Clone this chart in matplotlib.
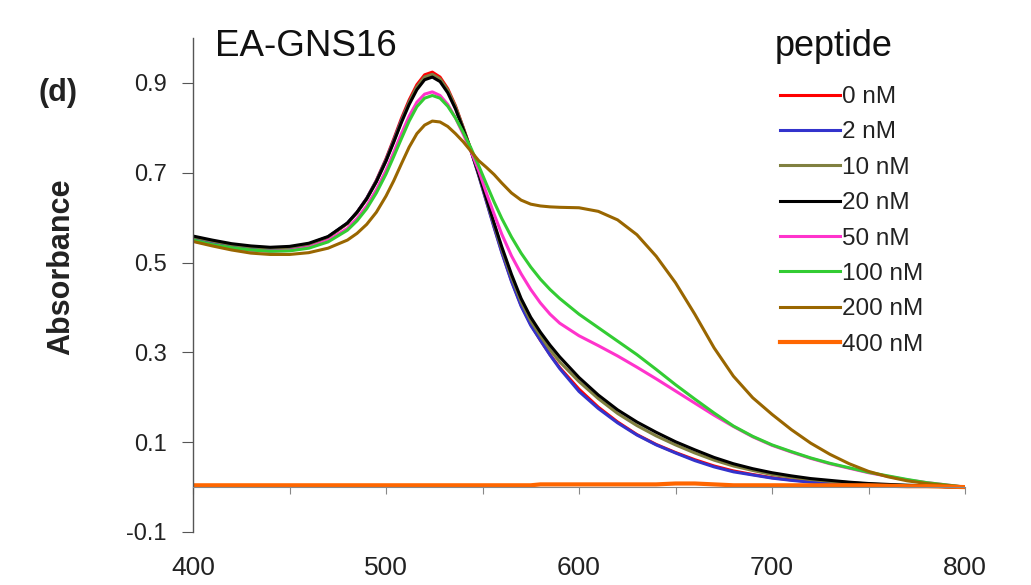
import matplotlib
matplotlib.use("Agg")
import matplotlib.pyplot as plt
from matplotlib.lines import Line2D

plt.rcParams['font.family'] = ['Liberation Sans', 'DejaVu Sans']

wavelength = [400, 410, 420, 430, 440, 450, 460, 470, 480, 485, 490, 495, 500, 504, 508, 512,
              516, 520, 524, 528, 532, 536, 540, 544, 548, 552, 556, 560, 565, 570, 575, 580,
              585, 590, 600, 610, 620, 630, 640, 650, 660, 670, 680, 690, 700, 710, 720, 730,
              740, 750, 760, 770, 780, 790, 800]

a_0nM = [0.553, 0.545, 0.538, 0.533, 0.530, 0.532, 0.540, 0.556, 0.587, 0.612, 0.643, 0.683, 0.731, 0.775, 0.821, 0.862,
         0.896, 0.918, 0.924, 0.913, 0.887, 0.849, 0.801, 0.751, 0.696, 0.638, 0.580, 0.524, 0.460, 0.405, 0.362, 0.327,
         0.295, 0.266, 0.218, 0.178, 0.145, 0.117, 0.095, 0.077, 0.061, 0.047, 0.036, 0.028, 0.021, 0.016, 0.012, 0.009,
         0.007, 0.005, 0.004, 0.003, 0.002, 0.001, 0.000]
a_2nM = [0.555, 0.546, 0.539, 0.534, 0.531, 0.533, 0.541, 0.557, 0.588, 0.612, 0.643, 0.682, 0.729, 0.772, 0.817, 0.857,
         0.890, 0.912, 0.918, 0.907, 0.882, 0.845, 0.799, 0.749, 0.694, 0.636, 0.578, 0.522, 0.458, 0.403, 0.360, 0.327,
         0.294, 0.264, 0.213, 0.175, 0.143, 0.116, 0.094, 0.076, 0.059, 0.045, 0.034, 0.027, 0.020, 0.015, 0.011, 0.008,
         0.006, 0.005, 0.004, 0.003, 0.002, 0.001, 0.000]
a_10nM = [0.557, 0.548, 0.540, 0.535, 0.532, 0.534, 0.541, 0.557, 0.587, 0.611, 0.641, 0.680, 0.727, 0.770, 0.815, 0.857,
          0.891, 0.913, 0.919, 0.909, 0.884, 0.847, 0.800, 0.750, 0.697, 0.641, 0.585, 0.530, 0.468, 0.413, 0.370, 0.337,
          0.306, 0.279, 0.235, 0.197, 0.164, 0.137, 0.114, 0.094, 0.076, 0.060, 0.047, 0.037, 0.028, 0.022, 0.017, 0.013,
          0.010, 0.007, 0.005, 0.004, 0.003, 0.001, 0.000]
a_20nM = [0.559, 0.550, 0.542, 0.537, 0.534, 0.536, 0.543, 0.558, 0.588, 0.612, 0.642, 0.680, 0.726, 0.768, 0.812, 0.852,
          0.885, 0.907, 0.913, 0.903, 0.878, 0.842, 0.797, 0.750, 0.698, 0.643, 0.588, 0.535, 0.474, 0.420, 0.378, 0.345,
          0.316, 0.290, 0.244, 0.205, 0.172, 0.145, 0.122, 0.101, 0.083, 0.066, 0.052, 0.041, 0.032, 0.025, 0.019, 0.015,
          0.011, 0.008, 0.006, 0.004, 0.003, 0.001, 0.000]
a_50nM = [0.548, 0.539, 0.532, 0.527, 0.525, 0.527, 0.534, 0.549, 0.576, 0.598, 0.626, 0.662, 0.705, 0.745, 0.787, 0.826,
          0.857, 0.875, 0.880, 0.872, 0.852, 0.822, 0.786, 0.748, 0.705, 0.655, 0.608, 0.563, 0.515, 0.475, 0.440, 0.410,
          0.385, 0.365, 0.337, 0.315, 0.292, 0.267, 0.241, 0.214, 0.187, 0.160, 0.135, 0.112, 0.093, 0.078, 0.064, 0.052,
          0.042, 0.032, 0.024, 0.016, 0.010, 0.005, 0.000]
a_100nM = [0.550, 0.540, 0.533, 0.528, 0.525, 0.526, 0.532, 0.546, 0.572, 0.593, 0.620, 0.655, 0.697, 0.736, 0.776, 0.815,
           0.847, 0.866, 0.872, 0.866, 0.848, 0.822, 0.790, 0.755, 0.716, 0.675, 0.635, 0.598, 0.557, 0.521, 0.490, 0.463,
           0.440, 0.420, 0.385, 0.355, 0.325, 0.295, 0.262, 0.228, 0.196, 0.165, 0.136, 0.113, 0.094, 0.079, 0.065, 0.053,
           0.043, 0.033, 0.025, 0.017, 0.010, 0.005, 0.000]
a_200nM = [0.547, 0.537, 0.528, 0.521, 0.518, 0.518, 0.522, 0.532, 0.550, 0.565, 0.585, 0.612, 0.648, 0.682, 0.720, 0.757,
           0.787, 0.806, 0.815, 0.813, 0.803, 0.787, 0.769, 0.748, 0.727, 0.712, 0.696, 0.677, 0.655, 0.639, 0.630, 0.626,
           0.624, 0.623, 0.622, 0.614, 0.595, 0.562, 0.514, 0.455, 0.385, 0.310, 0.247, 0.199, 0.162, 0.128, 0.098, 0.073,
           0.052, 0.035, 0.023, 0.014, 0.008, 0.004, 0.000]
a_400nM = [0.004, 0.004, 0.004, 0.004, 0.004, 0.004, 0.004, 0.004, 0.004, 0.004, 0.004, 0.004, 0.004, 0.004, 0.004, 0.004,
           0.004, 0.004, 0.004, 0.004, 0.004, 0.004, 0.004, 0.004, 0.004, 0.004, 0.004, 0.004, 0.004, 0.004, 0.004, 0.006,
           0.006, 0.006, 0.006, 0.006, 0.006, 0.006, 0.006, 0.008, 0.008, 0.006, 0.004, 0.004, 0.004, 0.004, 0.004, 0.004,
           0.004, 0.004, 0.003, 0.002, 0.002, 0.001, 0.000]

labels = ['0 nM', '2 nM', '10 nM', '20 nM', '50 nM', '100 nM', '200 nM', '400 nM']
colors = ['#FF0000', '#3333CC', '#808040', '#000000', '#FF33CC', '#33CC33', '#996600', '#FF6600']
series = [a_0nM, a_2nM, a_10nM, a_20nM, a_50nM, a_100nM, a_200nM, a_400nM]
widths = [2.2, 2.2, 2.2, 2.2, 2.2, 2.2, 2.2, 3.0]

x_major = [400, 500, 600, 700, 800]
x_ticks = [400, 450, 500, 550, 600, 650, 700, 750, 800]
y_ticks = [-0.1, 0.1, 0.3, 0.5, 0.7, 0.9]

W, H = 1031, 585
fig = plt.figure(figsize=(W / 100, H / 100), dpi=100)
ax = fig.add_axes([193 / W, 1 - 532 / H, (965 - 193) / W, (532 - 38) / H])

for vals, c, lw in zip(series, colors, widths):
    ax.plot(wavelength, vals, color=c, lw=lw, solid_capstyle='butt', solid_joinstyle='round')

ax.set_xlim(400, 800)
ax.set_ylim(-0.1, 1.0)

for s in ['top', 'right']:
    ax.spines[s].set_visible(False)
ax.spines['left'].set_color('#555555')
ax.spines['left'].set_linewidth(1.0)
ax.spines['bottom'].set_position(('data', 0))
ax.spines['bottom'].set_color('#888888')
ax.set_xticks(x_ticks)
ax.tick_params(axis='x', direction='out', length=5, color='#888888', labelbottom=False)
ax.set_yticks(y_ticks)
ax.set_yticklabels(['-0.1', '0.1', '0.3', '0.5', '0.7', '0.9'])
ax.tick_params(axis='y', direction='out', length=8, color='#555555', pad=11,
               labelsize=17, labelcolor='#222222')

sec = ax.secondary_xaxis(0)
sec.spines['bottom'].set_visible(False)
sec.set_xticks(x_major)
sec.set_xticklabels([str(v) for v in x_major])
sec.tick_params(axis='x', length=0, pad=17, labelsize=19, labelcolor='#222222')

fig.text(61 / W, 1 - 267 / H, 'Absorbance', rotation=90, ha='center', va='center',
         fontsize=22, fontweight='bold', color='#222222')
fig.text(58 / W, 1 - 93 / H, '(d)', ha='center', va='center', fontsize=22,
         fontweight='bold', color='#222222')
fig.text(215 / W, 1 - 47 / H, 'EA-GNS16', ha='left', va='center', fontsize=26.5, color='#111111')
fig.text(775 / W, 1 - 46 / H, 'peptide', ha='left', va='center', fontsize=26, color='#111111')

handles = [Line2D([], [], color=c, lw=lw) for c, lw in zip(colors, widths)]
leg = fig.legend(handles, labels, loc='upper left', bbox_to_anchor=(780 / W, 1 - 86 / H),
                 frameon=False, fontsize=17.5, handlelength=2.45, handletextpad=0.12,
                 labelspacing=0.55, borderpad=0, borderaxespad=0)
for t in leg.get_texts():
    t.set_color('#222222')

fig.savefig('out.png', dpi=100)
